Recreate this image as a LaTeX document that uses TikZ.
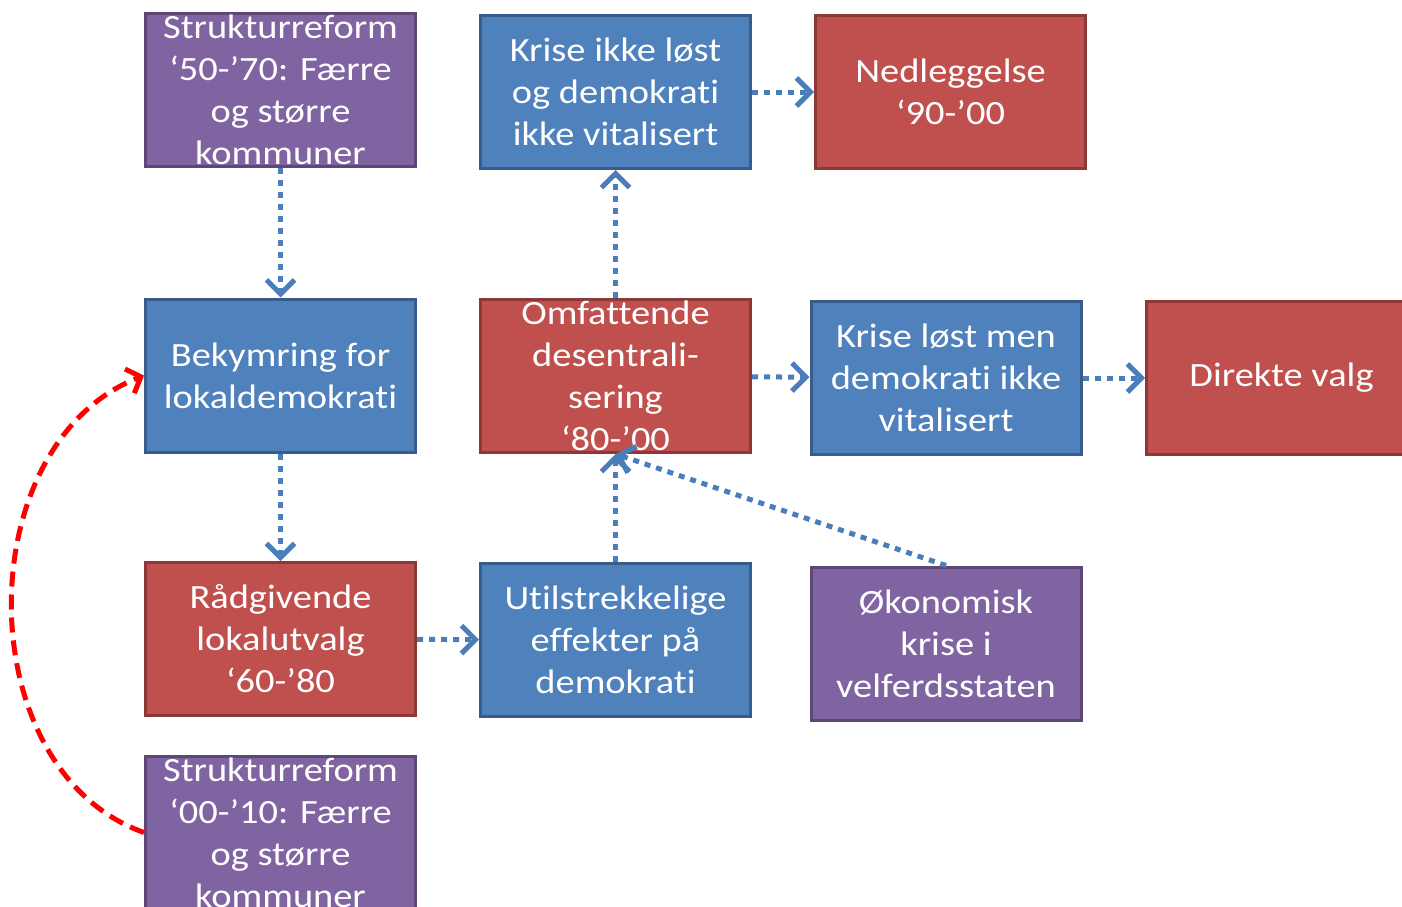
\documentclass[tikz,border=0pt]{standalone}
\usepackage{fontspec}
\setmainfont{Carlito}[FakeStretch=1.13, Ligatures=NoCommon]
\usetikzlibrary{arrows.meta}

\definecolor{boxblue}{HTML}{4F81BD}
\definecolor{edgeblue}{HTML}{385D8A}
\definecolor{boxred}{HTML}{C0504D}
\definecolor{edgered}{HTML}{8C3836}
\definecolor{boxpurple}{HTML}{8064A2}
\definecolor{edgepurple}{HTML}{5C4776}
\definecolor{arrowblue}{HTML}{4A7EBB}

\newcommand{\boxtext}[1]{\parbox[c][153pt][c]{270pt}{\centering\fontsize{34}{42}\selectfont #1}}
\newcommand{\nl}{\kern0pt }

\tikzset{
  box/.style={rectangle, line width=3pt, inner sep=0pt, outer sep=1.5pt, text=white},
  bluebox/.style={box, fill=boxblue, draw=edgeblue},
  redbox/.style={box, fill=boxred, draw=edgered},
  purplebox/.style={box, fill=boxpurple, draw=edgepurple},
  flow/.style={draw=arrowblue, line width=5pt, dash pattern=on 6pt off 6pt, -{Straight Barb[length=14pt,width=28pt]}},
  back/.style={draw=red, line width=5pt, dash pattern=on 15pt off 8pt, -{Straight Barb[length=12pt,width=26pt]}}
}

\begin{document}
\begin{tikzpicture}[x=1pt, y=-1pt]
    \useasboundingbox (0,0) rectangle (1402,907);
    \clip (0,0) rectangle (1402,907);

    \node (S1) at (280.5,90) [purplebox] {\boxtext{Strukturreform\\‘50-’70: Færre\\og større\\kommuner}};
    \node (B) at (280.5,375.5) [bluebox] {\boxtext{Bekymring for\\lokaldemokrat\nl i}};
    \node (R) at (280.5,639) [redbox] {\boxtext{Rådgivende\\lokalutvalg\\‘60-’80}};
    \node (S2) at (280.5,832.5) [purplebox] {\boxtext{Strukturreform\\‘00-’10: Færre\\og større\\kommuner}};

    \node (K1) at (615.5,92) [bluebox] {\boxtext{Krise ikke løst\\og demokrat\nl i\\ikke vitalisert}};
    \node (O) at (615.5,376) [redbox] {\boxtext{Omfattende\\desentrali-\\sering\\‘80-’00}};
    \node (U) at (615.5,640) [bluebox] {\boxtext{Ut\nl ilstrekkelige\\effekter på\\demokrat\nl i}};

    \node (N) at (950.5,92) [redbox] {\boxtext{Nedleggelse\\‘90-’00}};
    \node (K2) at (946,378) [bluebox] {\boxtext{Krise løst men\\demokrat\nl i ikke\\vitalisert}};
    \node (OK) at (946,643.5) [purplebox] {\boxtext{Økonomisk\\krise i\\velferdsstaten}};

    \node (D) at (1281.5,378) [redbox] {\boxtext{Direkte valg}};

    \draw [flow] (S1) -- (B);
    \draw [flow] (B) -- (R);
    \draw [flow] (R) -- (U);
    \draw [flow] (U) -- (O);
    \draw [flow] (OK.north) -- (O.south);
    \draw [flow] (O) -- (K1);
    \draw [flow] (K1) -- (N);
    \draw [flow] (O) -- (K2);
    \draw [flow] (K2) -- (D);

    \draw [back] (S2.west) .. controls (-32,770) and (-32,444) .. (B.west);
\end{tikzpicture}
\end{document}
